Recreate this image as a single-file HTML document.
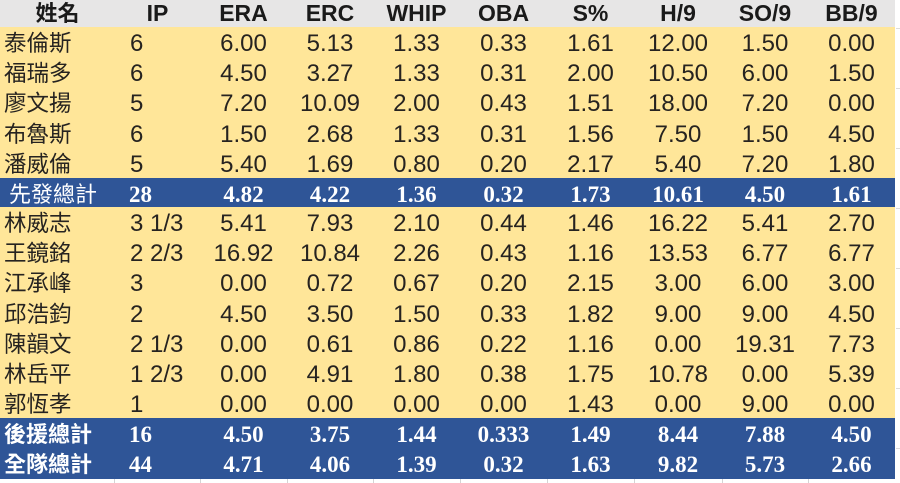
<!DOCTYPE html>
<html><head><meta charset="utf-8">
<style>
html,body{margin:0;padding:0;background:#fff;}
body{width:900px;height:483px;position:relative;overflow:hidden;}
.r{position:absolute;left:0;width:895px;display:grid;
 grid-template-columns:115px 85px 87px 86px 87px 87px 87px 88px 86px 87px;}
.r div{white-space:nowrap;text-align:center;position:relative;}
.h{top:0;height:27px;background:#e7e6e6;}
.h div{font-family:"Liberation Sans","Noto Sans CJK TC",sans-serif;font-size:23px;font-weight:bold;line-height:27px;color:#1a1a1a;}
.h div.n{font-family:"Noto Sans CJK TC",sans-serif;font-size:22px;top:-1px;}
.y{height:30px;background:#ffe699;}
.y div{font-family:"Liberation Sans","Noto Sans CJK TC",sans-serif;font-size:24px;line-height:30px;color:#262320;top:2px;}
.y div.n{font-family:"Noto Sans CJK TC",sans-serif;font-size:22.5px;text-align:left;padding-left:4px;top:0px;}
.y div.ip{text-align:left;padding-left:15px;}
.b{height:30px;background:#2f5597;}
.b div{font-family:"Liberation Serif",serif;font-weight:bold;font-size:23px;line-height:30px;color:#fff;top:2px;}
.b div.n{font-family:"Noto Sans CJK TC",sans-serif;font-size:22px;font-weight:bold;text-align:left;padding-left:4px;top:0;}
.b div.n.l{font-weight:normal;padding-left:9px;}
.b div.ip{text-align:left;padding-left:14px;}
.g{position:absolute;top:479px;height:4px;width:1px;background:#d4d4d4;}
.gh{position:absolute;left:896px;width:4px;height:1px;background:#dcdcdc;}
</style></head><body>
<div class="r h"><div class="n">姓名</div><div>IP</div><div>ERA</div><div>ERC</div><div>WHIP</div><div>OBA</div><div>S%</div><div>H/9</div><div>SO/9</div><div>BB/9</div></div>

<div class="r y" style="top:27px"><div class="n">泰倫斯</div><div class="ip">6</div><div>6.00</div><div>5.13</div><div>1.33</div><div>0.33</div><div>1.61</div><div>12.00</div><div>1.50</div><div>0.00</div></div>
<div class="r y" style="top:57px"><div class="n">福瑞多</div><div class="ip">6</div><div>4.50</div><div>3.27</div><div>1.33</div><div>0.31</div><div>2.00</div><div>10.50</div><div>6.00</div><div>1.50</div></div>
<div class="r y" style="top:87px;height:31px"><div class="n">廖文揚</div><div class="ip">5</div><div>7.20</div><div>10.09</div><div>2.00</div><div>0.43</div><div>1.51</div><div>18.00</div><div>7.20</div><div>0.00</div></div>
<div class="r y" style="top:118px"><div class="n">布魯斯</div><div class="ip">6</div><div>1.50</div><div>2.68</div><div>1.33</div><div>0.31</div><div>1.56</div><div>7.50</div><div>1.50</div><div>4.50</div></div>
<div class="r y" style="top:148px"><div class="n">潘威倫</div><div class="ip">5</div><div>5.40</div><div>1.69</div><div>0.80</div><div>0.20</div><div>2.17</div><div>5.40</div><div>7.20</div><div>1.80</div></div>

<div class="r b" style="top:178px;height:29px"><div class="n l">先發總計</div><div class="ip">28</div><div>4.82</div><div>4.22</div><div>1.36</div><div>0.32</div><div>1.73</div><div>10.61</div><div>4.50</div><div>1.61</div></div>

<div class="r y" style="top:207px"><div class="n">林威志</div><div class="ip">3 1/3</div><div>5.41</div><div>7.93</div><div>2.10</div><div>0.44</div><div>1.46</div><div>16.22</div><div>5.41</div><div>2.70</div></div>
<div class="r y" style="top:237px"><div class="n">王鏡銘</div><div class="ip">2 2/3</div><div>16.92</div><div>10.84</div><div>2.26</div><div>0.43</div><div>1.16</div><div>13.53</div><div>6.77</div><div>6.77</div></div>
<div class="r y" style="top:267px;height:31px"><div class="n">江承峰</div><div class="ip">3</div><div>0.00</div><div>0.72</div><div>0.67</div><div>0.20</div><div>2.15</div><div>3.00</div><div>6.00</div><div>3.00</div></div>
<div class="r y" style="top:298px"><div class="n">邱浩鈞</div><div class="ip">2</div><div>4.50</div><div>3.50</div><div>1.50</div><div>0.33</div><div>1.82</div><div>9.00</div><div>9.00</div><div>4.50</div></div>
<div class="r y" style="top:328px"><div class="n">陳韻文</div><div class="ip">2 1/3</div><div>0.00</div><div>0.61</div><div>0.86</div><div>0.22</div><div>1.16</div><div>0.00</div><div>19.31</div><div>7.73</div></div>
<div class="r y" style="top:358px"><div class="n">林岳平</div><div class="ip">1 2/3</div><div>0.00</div><div>4.91</div><div>1.80</div><div>0.38</div><div>1.75</div><div>10.78</div><div>0.00</div><div>5.39</div></div>
<div class="r y" style="top:388px"><div class="n">郭恆孝</div><div class="ip">1</div><div>0.00</div><div>0.00</div><div>0.00</div><div>0.00</div><div>1.43</div><div>0.00</div><div>9.00</div><div>0.00</div></div>

<div class="r b" style="top:418px"><div class="n">後援總計</div><div class="ip">16</div><div>4.50</div><div>3.75</div><div>1.44</div><div>0.333</div><div>1.49</div><div>8.44</div><div>7.88</div><div>4.50</div></div>
<div class="r b" style="top:448px;height:31px"><div class="n">全隊總計</div><div class="ip">44</div><div>4.71</div><div>4.06</div><div>1.39</div><div>0.32</div><div>1.63</div><div>9.82</div><div>5.73</div><div>2.66</div></div>

<div class="g" style="left:114px"></div><div class="g" style="left:200px"></div><div class="g" style="left:287px"></div><div class="g" style="left:373px"></div><div class="g" style="left:460px"></div><div class="g" style="left:547px"></div><div class="g" style="left:634px"></div><div class="g" style="left:722px"></div><div class="g" style="left:808px"></div>
<div class="gh" style="top:28px"></div><div class="gh" style="top:88px"></div><div class="gh" style="top:148px"></div><div class="gh" style="top:208px"></div><div class="gh" style="top:268px"></div><div class="gh" style="top:328px"></div><div class="gh" style="top:388px"></div><div class="gh" style="top:448px"></div>
</body></html>
